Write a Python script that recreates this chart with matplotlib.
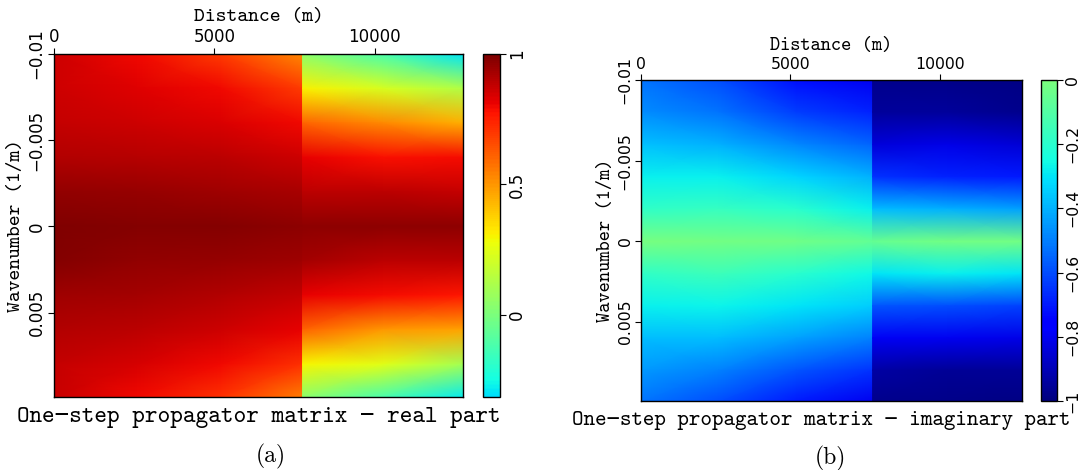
import matplotlib
matplotlib.use("Agg")
import matplotlib.pyplot as plt
import numpy as np
from matplotlib.colors import ListedColormap, Normalize
from matplotlib.cm import ScalarMappable

# wavenumber rows (1/m) and distance nodes (m) for the two velocity blocks
wavenumber = [-0.010, -0.008, -0.006, -0.004, -0.002, 0.0, 0.002, 0.004, 0.006, 0.008, 0.0099]
dist_left = [0, 2600, 5200, 7750]
dist_right = [7750, 10250, 12750]

# real part, rows follow wavenumber, columns follow distance nodes
real_left = [
    [0.86, 0.80, 0.69, 0.53],
    [0.86, 0.83, 0.80, 0.69],
    [0.88, 0.86, 0.84, 0.80],
    [0.91, 0.90, 0.89, 0.86],
    [0.96, 0.95, 0.94, 0.92],
    [0.99, 0.98, 0.98, 0.97],
    [0.98, 0.96, 0.95, 0.94],
    [0.94, 0.93, 0.91, 0.88],
    [0.91, 0.89, 0.86, 0.81],
    [0.88, 0.85, 0.80, 0.71],
    [0.87, 0.80, 0.71, 0.55],
]
real_right = [
    [0.04, -0.12, -0.30],
    [0.31, 0.22, 0.13],
    [0.60, 0.53, 0.45],
    [0.81, 0.78, 0.79],
    [0.89, 0.89, 0.88],
    [0.97, 0.97, 0.97],
    [0.93, 0.89, 0.89],
    [0.81, 0.79, 0.77],
    [0.60, 0.50, 0.47],
    [0.30, 0.25, 0.10],
    [0.04, -0.12, -0.28],
]

# imaginary part
imag_left = [
    [-0.52, -0.60, -0.72, -0.80],
    [-0.475, -0.52, -0.63, -0.68],
    [-0.375, -0.40, -0.48, -0.55],
    [-0.275, -0.28, -0.33, -0.40],
    [-0.18, -0.17, -0.20, -0.28],
    [-0.01, -0.02, -0.03, -0.06],
    [-0.18, -0.15, -0.20, -0.26],
    [-0.28, -0.27, -0.30, -0.35],
    [-0.38, -0.38, -0.43, -0.50],
    [-0.45, -0.50, -0.58, -0.65],
    [-0.52, -0.60, -0.70, -0.80],
]
imag_right = [
    [-0.97, -0.98, -0.99],
    [-0.95, -0.95, -0.97],
    [-0.84, -0.82, -0.85],
    [-0.65, -0.68, -0.70],
    [-0.38, -0.40, -0.43],
    [-0.05, -0.02, -0.02],
    [-0.30, -0.28, -0.30],
    [-0.58, -0.60, -0.62],
    [-0.79, -0.80, -0.82],
    [-0.93, -0.96, -0.96],
    [-0.97, -0.98, -0.99],
]

x_ticks = [0, 5000, 10000]
x_ticklabels = ["0", "5000", "10000"]
y_ticks = [-0.01, -0.005, 0, 0.005]
y_ticklabels = ["\u22120.01", "\u22120.005", "0", "0.005"]
real_cb_ticks = [0, 0.5, 1]
real_cb_labels = ["0", "0.5", "1"]
imag_cb_ticks = [-1, -0.8, -0.6, -0.4, -0.2, 0]
imag_cb_labels = ["\u22121", "\u22120.8", "\u22120.6", "\u22120.4", "\u22120.2", "0"]

TT = ["cmtt10", "DejaVu Sans Mono"]

jet = plt.get_cmap("jet")
real_lo, real_hi = -0.315, 1.0
imag_lo, imag_hi = -1.0, 0.0
# both panels use jet over [-1, 1]; each colorbar shows only its data range
real_cmap = ListedColormap(jet(np.linspace((real_lo + 1) / 2, (real_hi + 1) / 2, 256)))
imag_cmap = ListedColormap(jet(np.linspace((imag_lo + 1) / 2, (imag_hi + 1) / 2, 256)))
real_norm = Normalize(real_lo, real_hi)
imag_norm = Normalize(imag_lo, imag_hi)


def draw_panel(fig, ax_rect, cb_rect, blocks, cmap, norm, cb_ticks, cb_labels, fs, lfs):
    ax = fig.add_axes(ax_rect)
    for xs, vals in blocks:
        X, Y = np.meshgrid(xs, wavenumber)
        ax.pcolormesh(X, Y, np.array(vals), shading="gouraud", cmap=cmap, norm=norm)
    ax.set_xlim(0, 12750)
    ax.set_ylim(0.0099, -0.01)
    ax.xaxis.tick_top()
    ax.xaxis.set_label_position("top")
    ax.set_xticks(x_ticks, x_ticklabels, fontsize=fs, family="DejaVu Sans")
    ax.set_yticks(y_ticks, y_ticklabels, fontsize=fs, family="DejaVu Sans",
                  rotation=90, va="center")
    ax.tick_params(direction="out", length=4, width=0.8, pad=2)
    ax.set_xlabel("Distance (m)", family=TT, fontsize=lfs, labelpad=5)
    ax.set_ylabel("Wavenumber (1/m)", family=TT, fontsize=lfs, labelpad=2)
    for s in ax.spines.values():
        s.set_linewidth(1.0)

    cax = fig.add_axes(cb_rect)
    cb = fig.colorbar(ScalarMappable(norm=norm, cmap=cmap), cax=cax)
    cb.set_ticks(cb_ticks)
    cb.set_ticklabels(cb_labels, fontsize=fs, family="DejaVu Sans", rotation=90, va="center")
    cb.ax.tick_params(direction="out", length=4, width=0.8, pad=2)
    cb.outline.set_linewidth(1.0)
    return ax


fig = plt.figure(figsize=(10.9, 4.7), dpi=100)

draw_panel(fig, [0.0495, 0.1553, 0.3752, 0.7298], [0.4431, 0.1553, 0.0156, 0.7298],
           [(dist_left, real_left), (dist_right, real_right)],
           real_cmap, real_norm, real_cb_ticks, real_cb_labels, 12, 14.8)
draw_panel(fig, [0.5881, 0.1468, 0.3495, 0.6830], [0.9550, 0.1468, 0.0147, 0.6830],
           [(dist_left, imag_left), (dist_right, imag_right)],
           imag_cmap, imag_norm, imag_cb_ticks, imag_cb_labels, 11.3, 14.0)

fig.text(0.2376, 1 - 418 / 470, "One\u2212step propagator matrix \u2212 real part",
         family=TT, fontsize=17.3, ha="center", va="center")
fig.text(0.7537, 1 - 421 / 470, "One\u2212step propagator matrix \u2212 imaginary part",
         family=TT, fontsize=15.8, ha="center", va="center")
fig.text(271 / 1090, 1 - 456 / 470, "(a)", family="cmr10", fontsize=17, ha="center", va="center")
fig.text(830 / 1090, 1 - 458 / 470, "(b)", family="cmr10", fontsize=17, ha="center", va="center")

fig.savefig("out.png", dpi=100)
